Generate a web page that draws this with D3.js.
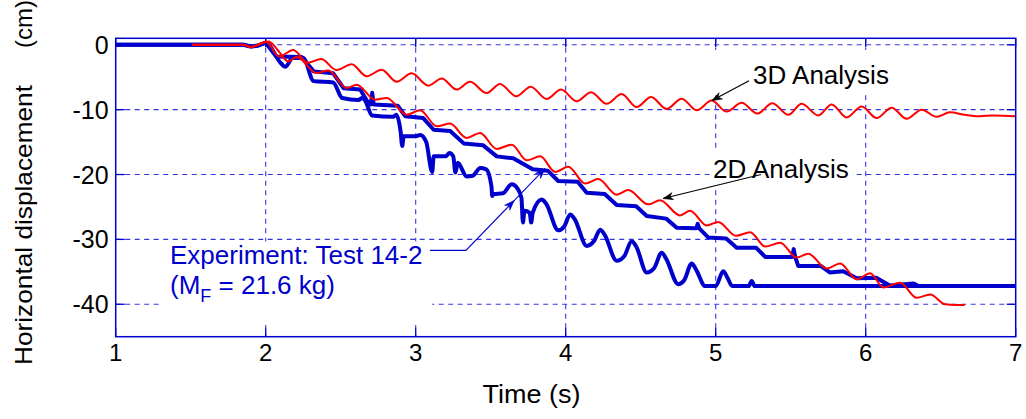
<!DOCTYPE html>
<html>
<head>
<meta charset="utf-8">
<script src="https://cdn.jsdelivr.net/npm/d3@7"></script>
<style>
  body { margin: 0; background: #fff; }
  text { font-family: "Liberation Sans", Arial, sans-serif; }
</style>
</head>
<body>
<svg id="chart" width="1026" height="419"></svg>
<script>
// tick values
const xTicks = [1, 2, 3, 4, 5, 6, 7];
const yTicks = [0, -10, -20, -30, -40];

// experiment, Test 14-2 (two traces)  [time s, displacement cm]
const expUpper = [[1.0,0],[1.85,0],[1.9,-0.25],[1.95,-0.1],[2.0,0.3],[2.07,-1.8],[2.24,-1.9],[2.32,-4.1],
  [2.45,-4.4],[2.52,-6.7],[2.63,-6.9],[2.69,-9.2],[2.70,-9.2],[2.71,-7.4],[2.72,-9.2],[2.88,-9.4],[2.93,-11.0],
  [3.05,-11.3],[3.12,-13.1],[3.23,-13.3],[3.32,-15.2],[3.45,-15.5],[3.54,-17.2],[3.65,-17.5],[3.78,-19.2],
  [3.88,-19.4],[3.95,-21.0],[4.08,-21.1],[4.14,-22.8],[4.26,-23.0],[4.34,-24.7],[4.47,-24.9],[4.54,-26.4],
  [4.67,-26.8],[4.74,-28.2],[4.87,-28.3],[4.88,-27.6],[4.89,-28.3],[4.95,-29.7],[5.07,-29.85],[5.14,-31.3],
  [5.27,-31.3],[5.33,-32.7],[5.51,-32.7],[5.52,-31.5],[5.53,-32.7],[5.55,-34.1],[5.7,-34.1],[5.76,-35.1],
  [5.85,-34.9],[5.94,-36.0],[6.07,-35.9],[6.16,-37.1],[6.32,-36.8],[6.35,-37.2],[7.0,-37.2]];

const expLower = [[1.0,0],[1.85,0],[1.9,-0.25],[1.95,-0.1],[2.0,0.3],[2.1,-2.8],[2.13,-3.4],[2.18,-2.05],
  [2.25,-2.05],[2.32,-5.6],[2.45,-5.8],[2.51,-8.2],[2.62,-8.5],[2.64,-8.2],[2.66,-8.5],[2.71,-10.9],
  [2.85,-11.1],[2.87,-10.8],[2.9,-13.5],[2.91,-15.6],[2.92,-14.1],[3.0,-14.1],[3.03,-13.9],[3.07,-15.0],
  [3.11,-19.6],[3.12,-17.2],[3.2,-17.2],[3.225,-16.7],[3.25,-17.2],[3.265,-19.7],[3.28,-18.2],[3.34,-20.3],
  [3.38,-20.2],[3.43,-19.0],[3.47,-19.2],[3.505,-21.8],[3.51,-23.3],[3.52,-23.0],[3.58,-22.9],[3.64,-21.5],
  [3.68,-22.2],[3.705,-23.6],[3.715,-27.4],[3.725,-25.6],[3.76,-25.9],[3.77,-27.4],[3.78,-25.9],[3.84,-23.85],
  [3.87,-24.5],[3.95,-28.6],[3.99,-28.0],[4.03,-26.15],[4.06,-26.9],[4.14,-31.0],[4.19,-30.2],[4.23,-28.5],
  [4.26,-29.3],[4.34,-33.3],[4.39,-32.6],[4.44,-30.3],[4.47,-31.1],[4.54,-35.1],[4.59,-34.4],[4.64,-32.05],
  [4.67,-33.0],[4.75,-36.9],[4.79,-36.3],[4.84,-33.7],[4.87,-34.7],[4.93,-37.2],[5.0,-37.2],[5.05,-34.9],
  [5.08,-36.0],[5.11,-37.2],[5.22,-37.2],[5.24,-36.4],[5.26,-37.2],[7.0,-37.2]];

// 2D analysis
const analysis2D = [[1.51,0],[1.85,0],[1.9,-0.35],[1.95,0],[2.02,0.5],[2.08,-0.8],[2.15,-2.56],[2.207,-1.9],
  [2.34,-4.36],[2.417,-3.95],[2.54,-6.67],[2.607,-6.15],[2.729,-8.46],[2.807,-8.2],[2.94,-10.77],[3.029,-10.1],
  [3.14,-12.56],[3.229,-12.15],[3.34,-14.36],[3.429,-13.6],[3.54,-16.05],[3.64,-15.4],[3.74,-17.8],[3.83,-17.2],
  [3.93,-19.6],[4.017,-18.8],[4.13,-21.4],[4.217,-20.7],[4.34,-23.1],[4.417,-22.4],[4.55,-24.6],[4.629,-23.95],
  [4.762,-26.3],[4.829,-25.6],[4.94,-27.85],[5.017,-27.3],[5.135,-29.45],[5.23,-28.9],[5.33,-31.1],[5.43,-30.5],
  [5.54,-32.8],[5.617,-32.2],[5.74,-34.5],[5.83,-33.7],[5.94,-36.15],[6.03,-35.2],[6.117,-37.4],[6.23,-36.7],
  [6.34,-39.0],[6.43,-38.5],[6.53,-40.0],[6.6,-40.1],[6.66,-40.1]];

// 3D analysis
const analysis3D = [[1.51,0],[1.85,0],[1.9,-0.35],[1.95,0],[2.0,0.5],[2.09,-1.8],[2.184,-0.8],[2.28,-2.75],
  [2.37,-2.2],[2.473,-3.9],[2.573,-3.0],[2.673,-4.85],[2.773,-3.85],[2.873,-5.7],[2.973,-4.4],[3.084,-6.3],
  [3.173,-5.2],[3.273,-6.9],[3.362,-5.7],[3.473,-7.45],[3.562,-6.05],[3.67,-7.95],[3.767,-6.46],[3.873,-8.36],
  [3.969,-6.9],[4.073,-8.7],[4.169,-7.3],[4.273,-9.1],[4.373,-7.6],[4.473,-9.6],[4.569,-8.05],[4.673,-9.9],
  [4.773,-8.3],[4.873,-10.1],[4.973,-8.6],[5.073,-10.3],[5.173,-8.95],[5.278,-10.6],[5.378,-9.0],[5.484,-10.8],
  [5.573,-9.1],[5.684,-10.9],[5.773,-9.2],[5.873,-11.2],[5.973,-9.5],[6.073,-11.3],[6.173,-9.7],[6.273,-11.4],
  [6.373,-10.0],[6.473,-11.1],[6.562,-10.4],[6.662,-10.8],[6.76,-11.0],[6.85,-10.9],[7.0,-11.0]];

const blue = "#0000cc", red = "#ff0000", gridCol = "#3535e0";
const margin = {left: 115.7, right: 10.3, top: 38.3, bottom: 82.3};
const W = 1026, H = 419;

const svg = d3.select("#chart");
const x = d3.scaleLinear().domain([1, 7]).range([margin.left, W - margin.right]);
const y = d3.scaleLinear().domain([-45, 1]).range([H - margin.bottom, margin.top]);
const [x0, x1] = x.range(), [y0, y1] = [y(1), y(-45)];

svg.append("defs").append("clipPath").attr("id", "plot")
  .append("rect").attr("x", x0).attr("y", y0).attr("width", x1 - x0).attr("height", y1 - y0);

// grid
const grid = svg.append("g").attr("stroke", gridCol).attr("stroke-width", 1.1)
  .attr("stroke-dasharray", "5,4.5").attr("fill", "none");
grid.selectAll(".gx").data(xTicks.slice(1, -1)).enter().append("line")
  .attr("x1", d => x(d)).attr("x2", d => x(d)).attr("y1", y0).attr("y2", y1);
grid.selectAll(".gy").data(yTicks).enter().append("line")
  .attr("x1", x0).attr("x2", x1).attr("y1", d => y(d)).attr("y2", d => y(d));

// annotation text backgrounds (knock out the grid like the original)
const boxes = [
  {t0: 1.31, t1: 3.11, v0: -30.3, v1: -43.2},
  {t0: 4.96, t1: 5.91, v0: -16.5, v1: -21.8},
  {t0: 4.97, t1: 6.18, v0: -0.8, v1: -7.7}
];
svg.append("g").selectAll("rect").data(boxes).enter().append("rect")
  .attr("x", d => x(d.t0)).attr("y", d => y(d.v0))
  .attr("width", d => x(d.t1) - x(d.t0)).attr("height", d => y(d.v1) - y(d.v0))
  .attr("fill", "#fff");

// ticks (inside, all four sides)
const tl = 9;
const ticks = svg.append("g").attr("stroke", blue).attr("stroke-width", 1.3);
xTicks.forEach(d => {
  ticks.append("line").attr("x1", x(d)).attr("x2", x(d)).attr("y1", y1).attr("y2", y1 - tl);
  ticks.append("line").attr("x1", x(d)).attr("x2", x(d)).attr("y1", y0).attr("y2", y0 + tl);
});
yTicks.forEach(d => {
  ticks.append("line").attr("x1", x0).attr("x2", x0 + tl).attr("y1", y(d)).attr("y2", y(d));
  ticks.append("line").attr("x1", x1).attr("x2", x1 - tl).attr("y1", y(d)).attr("y2", y(d));
});

// data lines
const plot = svg.append("g").attr("clip-path", "url(#plot)");
const lineLin = d3.line().x(d => x(d[0])).y(d => y(d[1]));
const lineSmooth = d3.line().x(d => x(d[0])).y(d => y(d[1])).curve(d3.curveMonotoneX);

plot.append("path").attr("d", lineLin(expUpper)).attr("fill", "none")
  .attr("stroke", blue).attr("stroke-width", 4).attr("stroke-linejoin", "round");
plot.append("path").attr("d", lineSmooth(expLower)).attr("fill", "none")
  .attr("stroke", blue).attr("stroke-width", 4).attr("stroke-linejoin", "round");
plot.append("path").attr("d", lineSmooth(analysis3D)).attr("fill", "none")
  .attr("stroke", red).attr("stroke-width", 2);
plot.append("path").attr("d", lineSmooth(analysis2D)).attr("fill", "none")
  .attr("stroke", red).attr("stroke-width", 2);

// frame
svg.append("rect").attr("x", x0).attr("y", y0).attr("width", x1 - x0).attr("height", y1 - y0)
  .attr("fill", "none").attr("stroke", blue).attr("stroke-width", 1.5);

// tick labels
svg.append("g").selectAll("text").data(xTicks).enter().append("text")
  .attr("x", d => x(d)).attr("y", 361).attr("text-anchor", "middle")
  .attr("font-size", 24).text(d => d);
svg.append("g").selectAll("text").data(yTicks).enter().append("text")
  .attr("x", x0 - 7).attr("y", d => y(d) + 9).attr("text-anchor", "end")
  .attr("font-size", 25).text(d => d);

// axis titles
svg.append("text").attr("x", 482.5).attr("y", 402.5).attr("font-size", 25)
  .attr("textLength", 98).attr("lengthAdjust", "spacingAndGlyphs").text("Time (s)");
svg.append("text").attr("transform", "translate(31.5,365) rotate(-90)").attr("font-size", 24)
  .attr("textLength", 280).attr("lengthAdjust", "spacingAndGlyphs").text("Horizontal displacement");
svg.append("text").attr("transform", "translate(31.5,48) rotate(-90)").attr("font-size", 24)
  .text("(cm)");

// arrows
function arrowHead(g, p, q, col) {
  const a = Math.atan2(q[1] - p[1], q[0] - p[0]), L = 10, w = 3.6;
  const bx = q[0] - L * Math.cos(a), by = q[1] - L * Math.sin(a);
  const nx = -Math.sin(a) * w, ny = Math.cos(a) * w;
  const mx = q[0] - 0.7 * L * Math.cos(a), my = q[1] - 0.7 * L * Math.sin(a);
  g.append("path").attr("d", `M${q[0]},${q[1]}L${bx + nx},${by + ny}L${mx},${my}L${bx - nx},${by - ny}Z`)
    .attr("fill", col).attr("stroke", col).attr("stroke-width", 0.6);
}
const pt = d => [x(d[0]), y(d[1])];
const ann = svg.append("g");

// 3D arrow
const a3 = [[5.222, -5.54], [4.975, -8.6]].map(pt);
ann.append("line").attr("x1", a3[0][0]).attr("y1", a3[0][1]).attr("x2", a3[1][0]).attr("y2", a3[1][1])
  .attr("stroke", "#000").attr("stroke-width", 1.2);
arrowHead(ann, a3[0], a3[1], "#000");

// 2D arrow
const a2 = [[5.302, -20.0], [4.649, -23.7]].map(pt);
ann.append("line").attr("x1", a2[0][0]).attr("y1", a2[0][1]).attr("x2", a2[1][0]).attr("y2", a2[1][1])
  .attr("stroke", "#000").attr("stroke-width", 1.2);
arrowHead(ann, a2[0], a2[1], "#000");

// experiment arrow (two heads)
const ae = [[3.095, -31.7], [3.335, -31.7], [3.862, -19.1]].map(pt);
ann.append("polyline").attr("points", ae.map(p => p.join(",")).join(" "))
  .attr("fill", "none").attr("stroke", blue).attr("stroke-width", 1.1);
arrowHead(ann, ae[1], ae[2], blue);
const mid = [ae[1][0] + 0.61 * (ae[2][0] - ae[1][0]), ae[1][1] + 0.61 * (ae[2][1] - ae[1][1])];
arrowHead(ann, ae[1], mid, blue);

// labels
ann.append("text").attr("x", x(5.249)).attr("y", y(-6.0)).attr("font-size", 26).text("3D Analysis");
ann.append("text").attr("x", x(4.982)).attr("y", y(-20.46)).attr("font-size", 26).text("2D Analysis");
ann.append("text").attr("x", x(1.362)).attr("y", y(-33.85)).attr("font-size", 26).attr("fill", blue)
  .text("Experiment: Test 14-2");
const mf = ann.append("text").attr("x", x(1.362)).attr("y", y(-38.46)).attr("font-size", 26).attr("fill", blue);
mf.append("tspan").text("(M");
mf.append("tspan").attr("font-size", 18).attr("dy", 8).text("F");
mf.append("tspan").attr("dy", -8).text(" = 21.6 kg)");
</script>
</body>
</html>
